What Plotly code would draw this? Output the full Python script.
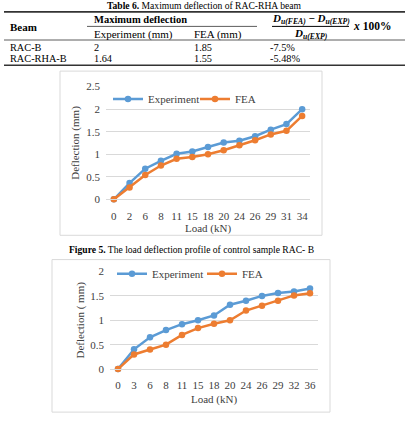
import plotly.graph_objects as go

W, H = 406, 422

# ---------------- data ----------------
loads_b = ["0", "2", "6", "8", "11", "15", "18", "20", "24", "26", "29", "31", "34"]
exp_b = [0, 0.36, 0.68, 0.855, 1.01, 1.06, 1.16, 1.26, 1.30, 1.40, 1.545, 1.67, 2.0]
fea_b = [0, 0.26, 0.54, 0.75, 0.90, 0.94, 1.00, 1.09, 1.20, 1.31, 1.44, 1.52, 1.85]

loads_rha = ["0", "3", "6", "8", "11", "15", "18", "20", "24", "26", "29", "32", "36"]
exp_rha = [0, 0.405, 0.65, 0.80, 0.92, 1.00, 1.10, 1.32, 1.40, 1.50, 1.56, 1.59, 1.65]
fea_rha = [0, 0.30, 0.40, 0.50, 0.70, 0.84, 0.93, 1.00, 1.20, 1.30, 1.40, 1.51, 1.555]

table_title = "<b>Table 6.</b> Maximum deflection of RAC-RHA beam"
table_beams = ["RAC-B", "RAC-RHA-B"]
table_exp = ["2", "1.64"]
table_fea = ["1.85", "1.55"]
table_diff = ["-7.5%", "-5.48%"]

BLUE = "#5B9BD5"
ORANGE = "#ED7D31"
GRID = "#d9d9d9"
TXT = "#404040"
SERIF = "Liberation Serif, Times New Roman, serif"


def px(x):
    return x / W


def py(y):
    return 1 - y / H


fig = go.Figure()


def series(x, y, name, color, xa, ya, lg):
    fig.add_trace(go.Scatter(x=x, y=y, name=name, mode="lines+markers",
                             line=dict(color=color, width=2.5), marker=dict(size=6.5, color=color),
                             xaxis=xa, yaxis=ya, legend=lg, cliponaxis=False))


series(loads_b, exp_b, "Experiment", BLUE, "x", "y", "legend")
series(loads_b, fea_b, "FEA", ORANGE, "x", "y", "legend")
series(loads_rha, exp_rha, "Experiment", BLUE, "x2", "y2", "legend2")
series(loads_rha, fea_rha, "FEA", ORANGE, "x2", "y2", "legend2")

axfont = dict(family=SERIF, size=11, color=TXT)

xcommon = dict(type="category", showgrid=False, zeroline=False, showline=True,
               linecolor=GRID, linewidth=1, ticks="", tickfont=axfont,
               ticklabelstandoff=6, fixedrange=True)
ycommon = dict(showgrid=True, gridcolor=GRID, gridwidth=1, zeroline=False, showline=False,
               ticks="", tickfont=axfont, dtick=0.5, ticklabelstandoff=5, fixedrange=True)

layout = dict(
    width=W, height=H,
    margin=dict(l=0, r=0, t=0, b=0),
    paper_bgcolor="white", plot_bgcolor="rgba(0,0,0,0)",
    font=dict(family=SERIF, color="black"),
    xaxis=dict(xcommon, domain=[px(106), px(310)], anchor="y", range=[-0.5, 12.5],
               title=dict(text="Load (kN)", font=axfont, standoff=3)),
    yaxis=dict(ycommon, domain=[py(199), py(83)], anchor="x", range=[0, 2.5],
               title=dict(text="Deflection (mm)", font=axfont, standoff=4)),
    xaxis2=dict(xcommon, domain=[px(110), px(318)], anchor="y2", range=[-0.5, 12.5],
                title=dict(text="Load (kN)", font=axfont, standoff=5)),
    yaxis2=dict(ycommon, domain=[py(373.7), py(273.3)], anchor="x2", range=[0, 2],
                title=dict(text="Deflection ( mm)", font=axfont, standoff=3)),
    legend=dict(orientation="h", x=px(108), y=py(95.7), xanchor="left", yanchor="middle",
                bgcolor="rgba(0,0,0,0)", font=axfont, entrywidth=42, itemwidth=30,
                tracegroupgap=0),
    legend2=dict(orientation="h", x=px(112), y=py(275.7), xanchor="left", yanchor="middle",
                 bgcolor="rgba(0,0,0,0)", font=axfont, entrywidth=45, itemwidth=30,
                 tracegroupgap=0),
    showlegend=True,
)
fig.update_layout(**layout)

shapes = []
# chart boxes
shapes.append(dict(type="rect", xref="paper", yref="paper", x0=px(60), x1=px(322),
                   y0=py(236), y1=py(67), line=dict(color=GRID, width=1)))
shapes.append(dict(type="rect", xref="paper", yref="paper", x0=px(52), x1=px(330),
                   y0=py(418), y1=py(261), line=dict(color=GRID, width=1)))
# table rules
shapes.append(dict(type="line", xref="paper", yref="paper", x0=px(4), x1=px(405),
                   y0=py(6), y1=py(6), line=dict(color="#333333", width=1.6)))
shapes.append(dict(type="line", xref="paper", yref="paper", x0=px(87), x1=px(257),
                   y0=py(21), y1=py(21), line=dict(color="#333333", width=0.8)))
shapes.append(dict(type="line", xref="paper", yref="paper", x0=px(4), x1=px(405),
                   y0=py(35), y1=py(35), line=dict(color="#333333", width=0.8)))
shapes.append(dict(type="line", xref="paper", yref="paper", x0=px(4), x1=px(405),
                   y0=py(61), y1=py(61), line=dict(color="#333333", width=1.6)))
# fraction bar
shapes.append(dict(type="line", xref="paper", yref="paper", x0=px(272), x1=px(349),
                   y0=py(21), y1=py(21), line=dict(color="black", width=1)))
fig.update_layout(shapes=shapes)

ann = []


def text(x, y, s, size=10, anchor="left", color="black"):
    ann.append(dict(x=px(x), y=py(y), xref="paper", yref="paper", text=s, showarrow=False,
                    xanchor=anchor, yanchor="middle", font=dict(family=SERIF, size=size, color=color),
                    borderpad=0))


# table (its caption is cut by the top edge, as in the source)
text(204, -0.5, table_title, size=9.6, anchor="center")
text(9, 22, "<b>Beam</b>", size=11)
text(93, 14, "<b>Maximum deflection</b>", size=10.5)
text(93, 29, "Experiment (mm)", size=11)
text(193, 29, "FEA (mm)", size=11)
text(310.5, 13, "<b><i>D</i></b><sub><b><i>u(FEA)</i></b></sub> <b>−</b> <b><i>D</i></b><sub><b><i>u(EXP)</i></b></sub>",
     size=11, anchor="center")
text(310.5, 28.5, "<b><i>D</i></b><sub><b><i>u(EXP)</i></b></sub>", size=11, anchor="center")
text(352, 21, "<b><i>x</i> 100%</b>", size=11.5)
for i, (b, e, f, d) in enumerate(zip(table_beams, table_exp, table_fea, table_diff)):
    yy = 42.5 + i * 12
    text(9, yy, b, size=10.3)
    text(93, yy, e, size=10.3)
    text(193, yy, f, size=10.3)
    text(269, yy, d, size=10.3)

# caption
text(191, 250.5, "<b>Figure 5.</b> The load deflection profile of control sample RAC- B", size=9.6,
     anchor="center")

fig.update_layout(annotations=ann)

fig.write_html("out.html")
